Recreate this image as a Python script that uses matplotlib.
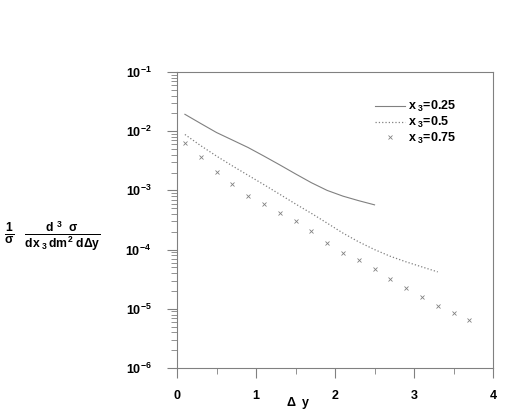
import numpy as np
import matplotlib.pyplot as plt
from matplotlib.ticker import LogLocator, FixedLocator, NullFormatter

plt.rcParams['font.family'] = ['Liberation Sans', 'DejaVu Sans']
plt.rcParams['font.weight'] = 'bold'
plt.rcParams['mathtext.fontset'] = 'custom'
plt.rcParams['mathtext.rm'] = 'Liberation Sans:bold'
plt.rcParams['mathtext.it'] = 'Liberation Sans:bold'
plt.rcParams['mathtext.bf'] = 'Liberation Sans:bold'

# x3 = 0.25 (solid line)
dy_025 = [0.1, 0.3, 0.5, 0.7, 0.9, 1.1, 1.3, 1.5, 1.7, 1.9, 2.1, 2.3, 2.5]
xs_025 = [0.0193, 0.0135, 0.0095, 0.0071, 0.0053, 0.0038, 0.0027, 0.0019,
          0.00135, 0.001, 0.0008, 0.00067, 0.00057]

# x3 = 0.5 (dotted line)
dy_05 = [0.1, 0.3, 0.5, 0.7, 0.9, 1.1, 1.3, 1.5, 1.7, 1.9, 2.1, 2.3, 2.5,
         2.7, 2.9, 3.1, 3.3]
xs_05 = [0.0088, 0.0057, 0.0038, 0.0026, 0.0018, 0.00125, 0.00086, 0.00059,
         0.00041, 0.00028, 0.00019, 0.000135, 0.0001, 0.000077, 0.000062,
         0.000051, 0.000042]

# x3 = 0.75 (crosses)
dy_075 = [0.1, 0.3, 0.5, 0.7, 0.9, 1.1, 1.3, 1.5, 1.7, 1.9, 2.1, 2.3, 2.5,
          2.7, 2.9, 3.1, 3.3, 3.5, 3.7]
xs_075 = [6.4e-3, 3.62e-3, 2.05e-3, 1.3e-3, 8.1e-4, 5.8e-4, 4.2e-4, 3.04e-4,
          2.06e-4, 1.31e-4, 8.9e-5, 6.7e-5, 4.7e-5, 3.2e-5, 2.25e-5, 1.56e-5,
          1.12e-5, 8.4e-6, 6.5e-6]

labels = [r'x$_{\ 3}$=0.25', r'x$_{\ 3}$=0.5', r'x$_{\ 3}$=0.75']

fig = plt.figure(figsize=(5.12, 4.15), dpi=100)
ax = fig.add_axes([0.3457, 0.1133, 0.6173, 0.7132])

gray = '#808080'
ax.plot(dy_025, xs_025, '-', color=gray, lw=0.8, label=labels[0])
ax.plot(dy_05, xs_05, ':', color=gray, lw=0.9, label=labels[1])
ax.plot(dy_075, xs_075, 'x', color=gray, ms=3.2, mew=0.6, label=labels[2])

ax.set_yscale('log')
ax.set_xlim(0, 4)
ax.set_ylim(1e-6, 1e-1)

ax.xaxis.set_major_locator(FixedLocator([0, 1, 2, 3, 4]))
ax.xaxis.set_minor_locator(FixedLocator([0.5, 1.5, 2.5, 3.5]))
ax.yaxis.set_minor_locator(LogLocator(base=10, subs=np.arange(2, 10), numticks=10))
ax.yaxis.set_minor_formatter(NullFormatter())
ax.set_yticks([1e-6, 1e-5, 1e-4, 1e-3, 1e-2, 1e-1])
ax.set_yticklabels([r'10$^{-6}$', r'10$^{-5}$', r'10$^{-4}$', r'10$^{-3}$',
                    r'10$^{-2}$', r'10$^{-1}$'])

for s in ax.spines.values():
    s.set_color(gray)
    s.set_linewidth(0.8)
ax.tick_params(which='major', direction='out', length=7.5, width=0.8, color=gray,
               labelsize=9)
ax.tick_params(which='minor', direction='out', length=4, width=0.6, color=gray)
ax.tick_params(axis='x', which='major', pad=8)
ax.tick_params(axis='y', which='major', pad=11)

ax.legend(loc='upper right', bbox_to_anchor=(0.90, 0.925), frameon=False,
          fontsize=9, handlelength=2.4, handletextpad=0.3, labelspacing=0.05,
          borderaxespad=0)

fig.text(0.582, 0.022, r'$\Delta$  y', fontsize=9, ha='center')
fig.text(0.008, 0.43,
         r'$\frac{1}{\sigma}\ \ \frac{d^{\ 3}\ \ \sigma}{dx_{\ 3}\,dm^{2}\ d\Delta y}$',
         fontsize=12.5, ha='left', va='center')

fig.savefig('out.png', dpi=100)
